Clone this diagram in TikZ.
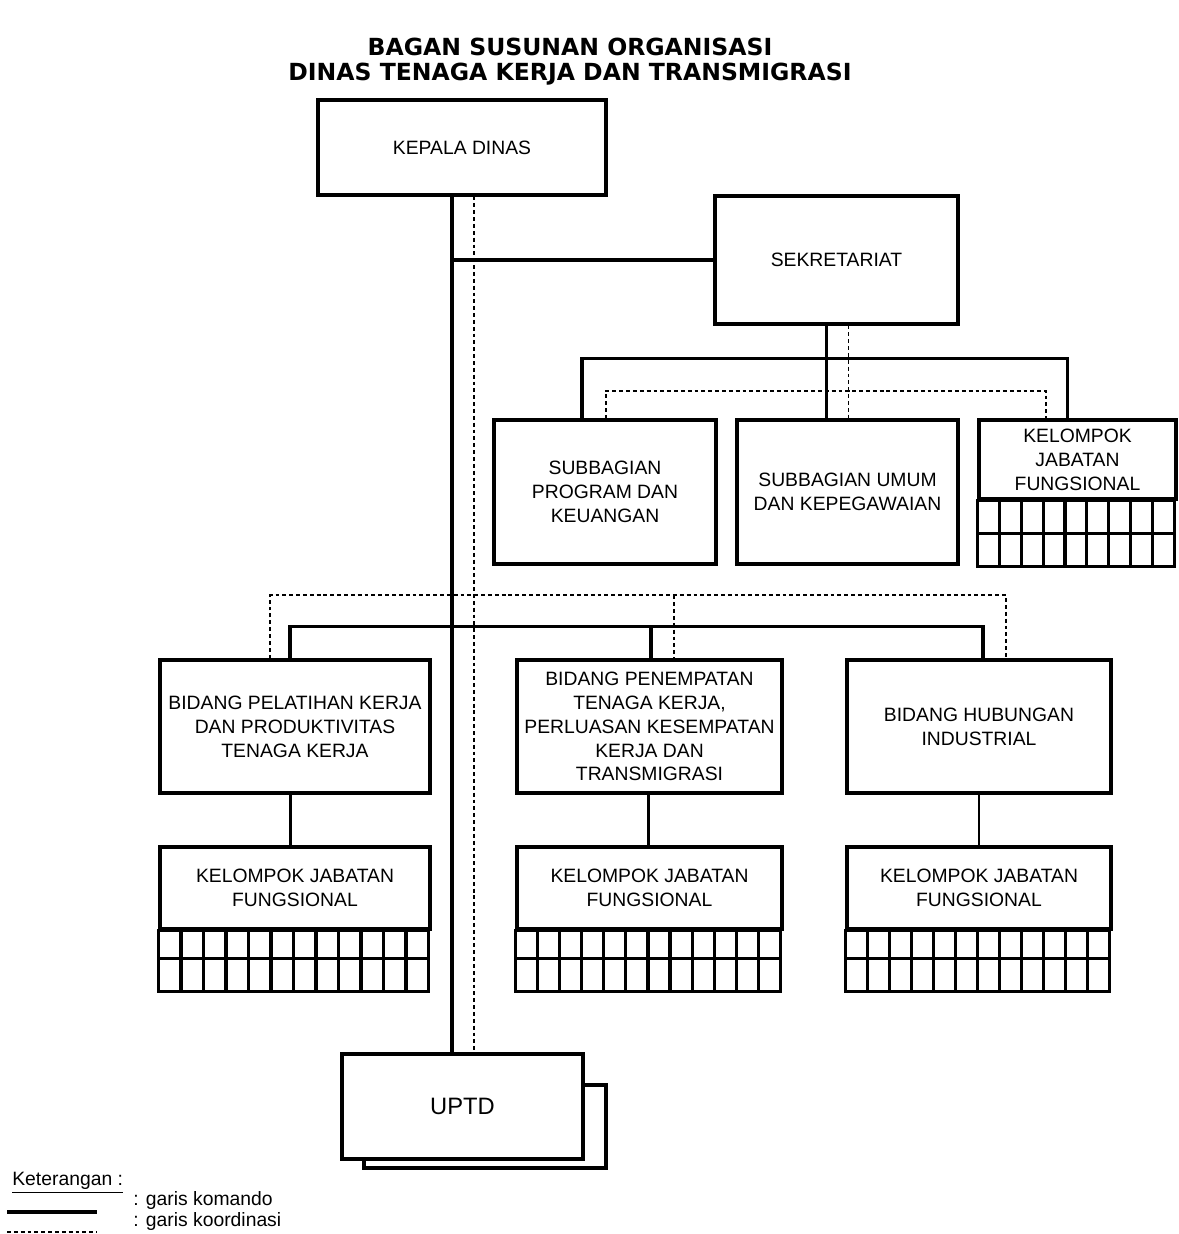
\documentclass[tikz,border=0pt]{standalone}
\usepackage{fontspec}
\setmainfont{Liberation Sans}
\newfontfamily\judulfont{DejaVu Sans}
\usetikzlibrary{calc}

\begin{document}
\begin{tikzpicture}[x=0.02cm,y=-0.02cm,
	kotak/.style={draw,line width=1.8pt,fill=white,align=center,inner sep=0pt,font=\fontsize{11}{13.6}\selectfont},
	komando/.style={line width=1.9pt},
	cabang/.style={line width=1.4pt},
	koordinasi/.style={line width=1.1pt,dash pattern=on 2.2pt off 1.7pt},
	judul/.style={font=\judulfont\bfseries\fontsize{13.4}{15.3}\selectfont}]
	\useasboundingbox (0,0) rectangle (1179,1234);
	%\draw [help lines,step=50] (0,0) grid (1179,1234);

	% judul
	\node[judul] (t1) at (570,47) {BAGAN SUSUNAN ORGANISASI};
	\node[judul] (t2) at (570,74) {DINAS TENAGA KERJA DAN TRANSMIGRASI};

	% kotak
	\node[kotak,minimum width=5.76cm,minimum height=1.9cm] (kd) at (462,147.5) {KEPALA DINAS};
	\node[kotak,minimum width=4.86cm,minimum height=2.56cm] (sek) at (836.5,260) {SEKRETARIAT};
	\node[kotak,minimum width=4.44cm,minimum height=2.88cm] (spk) at (605,492) {SUBBAGIAN\\PROGRAM DAN\\KEUANGAN};
	\node[kotak,minimum width=4.42cm,minimum height=2.88cm] (sbu) at (847.5,492) {SUBBAGIAN UMUM\\DAN KEPEGAWAIAN};
	\node[kotak,minimum width=3.94cm,minimum height=1.58cm] (kjf) at (1077.5,459.5) {KELOMPOK\\JABATAN\\FUNGSIONAL};
	\node[kotak,minimum width=5.4cm,minimum height=2.66cm] (bpk) at (295,726.5) {BIDANG PELATIHAN KERJA\\DAN PRODUKTIVITAS\\TENAGA KERJA};
	\node[kotak,minimum width=5.3cm,minimum height=2.66cm] (bpt) at (649.5,726.5) {BIDANG PENEMPATAN\\TENAGA KERJA,\\PERLUASAN KESEMPATAN\\KERJA DAN\\TRANSMIGRASI};
	\node[kotak,minimum width=5.28cm,minimum height=2.66cm] (bhi) at (979,726.5) {BIDANG HUBUNGAN\\INDUSTRIAL};
	\node[kotak,minimum width=5.4cm,minimum height=1.64cm] (kf1) at (295,888) {KELOMPOK JABATAN\\FUNGSIONAL};
	\node[kotak,minimum width=5.3cm,minimum height=1.64cm] (kf2) at (649.5,888) {KELOMPOK JABATAN\\FUNGSIONAL};
	\node[kotak,minimum width=5.28cm,minimum height=1.64cm] (kf3) at (979,888) {KELOMPOK JABATAN\\FUNGSIONAL};
	\node[kotak,minimum width=4.84cm,minimum height=1.66cm] (uptdb) at (485,1126.5) {};
	\node[kotak,minimum width=4.82cm,minimum height=2.1cm,font=\fontsize{13.5}{16}\selectfont] (uptd) at (462.5,1106.5) {UPTD};

	% kotak-kotak jabatan fungsional
	\draw[line width=1.8pt] (kjf.south west) rectangle ++(197,66);
	\draw[line width=1.8pt] ($(kjf.south west)+(0,33)$) -- ++(197,0);
	\foreach \i in {1,...,8}
		\draw[line width=1.8pt] ($(kjf.south west)+({\i*197/9},0)$) -- ++(0,66);
	\foreach \n/\w in {kf1/270,kf2/265,kf3/264}{
		\draw[line width=1.8pt] (\n.south west) rectangle ++(\w,61);
		\draw[line width=1.8pt] ($(\n.south west)+(0,28)$) -- ++(\w,0);
		\foreach \i in {1,...,11}
			\draw[line width=1.8pt] ($(\n.south west)+({\i*\w/12},0)$) -- ++(0,61);
	}

	% garis komando
	\coordinate (kom) at ($(kd.south)+(-10,0)$);
	\coordinate (koor) at ($(kd.south)+(12,0)$);
	\coordinate (sekk) at ($(sek.south)+(-10,0)$);
	\coordinate (sekc) at ($(sek.south)+(12,0)$);
	\draw[komando] (kom) -- (kom |- uptd.north);
	\draw[komando] (sek.west) -- (sek.west -| kom);
	\draw[komando] (sekk) -- (sekk |- sbu.north);
	\draw[komando] ($(spk.north)+(-23,0)$) |- ($(sekk)+(0,33)$) -| ($(kjf.north)+(-10,0)$);
	\draw[komando] ($(bpk.north)+(-5,0)$) |- ($(bpt.north)+(1.5,-32)$) -| ($(bhi.north)+(4,0)$);
	\draw[komando] ($(bpt.north)+(1.5,-32)$) -- ($(bpt.north)+(1.5,0)$);
	\draw[cabang] ($(bpk.south)+(-4.5,0)$) -- ($(kf1.north)+(-4.5,0)$);
	\draw[cabang] ($(bpt.south)+(-1,0)$) -- ($(kf2.north)+(-1,0)$);
	\draw[cabang] (bhi.south) -- (kf3.north);

	% garis koordinasi
	\draw[koordinasi] (koor) -- (koor |- uptd.north);
	\draw[koordinasi] ($(sek.west)+(0,33)$) -- ($(sek.west)+(0,33)$ -| koor);
	\draw[koordinasi] (sekc) -- (sekc |- sbu.north);
	\draw[koordinasi] ($(spk.north)+(1,0)$) |- ($(sekc)+(0,65)$) -| ($(kjf.north)+(-31.5,0)$);
	\draw[koordinasi] ($(bpk.north)+(-25,0)$) |- ($(bpt.north)+(24.5,-63)$) -| ($(bhi.north)+(27,0)$);
	\draw[koordinasi] ($(bpt.north)+(24.5,-63)$) -- ($(bpt.north)+(24.5,0)$);

	% keterangan
	\node[anchor=west,inner sep=0pt,font=\fontsize{11}{13}\selectfont] (ket) at (12,1183) {\underline{Keterangan :}};
	\node[anchor=west,inner sep=0pt,font=\fontsize{11}{13}\selectfont] (lkom) at (133,1200) {: garis komando};
	\node[anchor=west,inner sep=0pt,font=\fontsize{11}{13}\selectfont] (lkoor) at (133,1221) {: garis koordinasi};
	\draw[komando] (7,1212) -- (97,1212);
	\draw[koordinasi] (7,1232) -- (97,1232);
\end{tikzpicture}
\end{document}
